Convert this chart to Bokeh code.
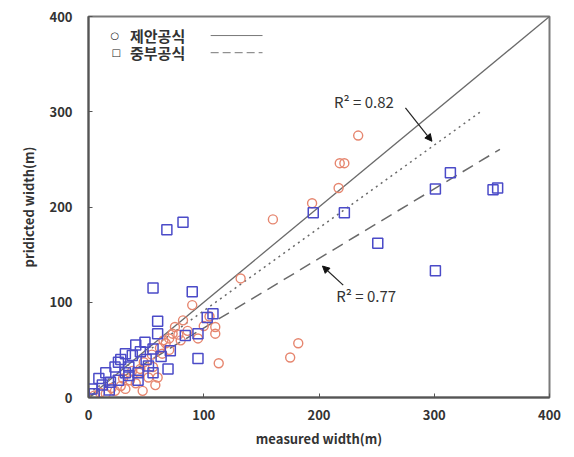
from bokeh.plotting import figure
from bokeh.models import Range1d, Label, Arrow, NormalHead, FixedTicker
from bokeh.embed import file_html
from bokeh.resources import INLINE

# 제안공식 (proposed formula): measured vs predicted width (m)
prop_x = [234, 218, 222, 217, 194, 160, 132, 90, 110, 110, 113, 182, 175,
          73, 67, 64, 48, 56, 52, 41, 32, 23, 15, 60, 47, 58, 82, 75,
          5, 10, 20, 28, 30, 36, 38, 44, 45, 55, 62, 65, 70, 70, 78, 80, 86, 95, 100, 105]
prop_y = [275, 246, 246, 220, 204, 187, 125, 97, 74, 67, 36, 57, 42,
          67, 57, 46, 37, 32, 21, 15, 9, 7, 4, 21, 7, 13, 81, 74,
          2, 5, 10, 12, 20, 18, 28, 26, 30, 45, 52, 60, 50, 62, 66, 60, 70, 62, 75, 85]

# 중부공식 (existing formula)
mid_x = [68, 82, 56, 90, 195, 222, 251, 314, 301, 351, 355, 301,
         60, 60, 71, 69, 95, 108, 103, 84, 95,
         41, 49, 56, 32, 38, 26, 23, 35, 43, 35, 15, 9, 19, 3, 12, 26, 43, 56, 32,
         5, 18, 50, 45, 28, 52, 63]
mid_y = [176, 184, 115, 111, 194, 194, 162, 236, 219, 218, 220, 133,
         80, 67, 49, 30, 41, 88, 84, 65, 67,
         55, 58, 51, 46, 44, 37, 32, 32, 26, 23, 26, 20, 16, 9, 13, 18, 18, 26, 26,
         4, 8, 40, 48, 40, 33, 43]

# regression lines: slope, intercept, x extent
fit_prop = dict(slope=0.87, intercept=4, x0=0, x1=340)
fit_mid = dict(slope=0.73, intercept=0, x0=0, x1=357)
r2_prop = 0.82
r2_mid = 0.77

ticks = [0, 100, 200, 300, 400]

circle_color = "#e6866f"
square_color = "#4b4bc8"
line_color = "#6a6a6a"

p = figure(width=574, height=457, output_backend="svg", toolbar_location=None,
           x_range=Range1d(0, 400), y_range=Range1d(0, 400),
           min_border_left=88, min_border_right=25, min_border_top=16, min_border_bottom=60)
p.background_fill_color = "white"
p.border_fill_color = "white"
p.xgrid.visible = False
p.ygrid.visible = False
p.outline_line_color = "#7a7a7a"
p.outline_line_width = 2

for ax in (p.xaxis[0], p.yaxis[0]):
    ax.ticker = FixedTicker(ticks=ticks)
    ax.minor_tick_line_color = None
    ax.major_tick_in = 4
    ax.major_tick_out = 0
    ax.axis_line_color = "#555555"
    ax.axis_line_width = 2
    ax.major_tick_line_color = "#555555"
    ax.major_label_text_font = "Noto Sans CJK KR"
    ax.major_label_text_font_style = "bold"
    ax.major_label_text_font_size = "13px"
    ax.major_label_text_color = "#333333"
    ax.axis_label_text_font = "Noto Sans CJK KR"
    ax.axis_label_text_font_style = "bold"
    ax.axis_label_text_font_size = "13px"
    ax.axis_label_text_color = "#333333"

p.xaxis.axis_label = "measured width(m)"
p.yaxis.axis_label = "pridicted width(m)"
p.xaxis.major_label_standoff = 12
p.yaxis.major_label_standoff = 16
p.xaxis.axis_label_standoff = 6
p.yaxis.axis_label_standoff = 8

# 1:1 line
p.line([0, 400], [0, 400], line_color=line_color, line_width=1.3)

# fitted lines
for fit, dash in ((fit_prop, "2 4"), (fit_mid, "12 7")):
    xs = [fit["x0"], fit["x1"]]
    ys = [fit["slope"] * x + fit["intercept"] for x in xs]
    p.line(xs, ys, line_color=line_color, line_width=1.5, line_dash=dash)

p.scatter(prop_x, prop_y, marker="circle", size=9, fill_color=None,
          line_color=circle_color, line_width=1.4)
p.scatter(mid_x, mid_y, marker="square", size=10, fill_color=None,
          line_color=square_color, line_width=1.5)

# R² annotations with arrows
lbl_font = "Noto Sans CJK KR"
p.add_layout(Label(x=213, y=311, text=f"R\u00b2 = {r2_prop:.2f}", text_font=lbl_font,
                   text_font_size="15px", text_color="#333333", text_baseline="middle"))
p.add_layout(Label(x=215, y=107, text=f"R\u00b2 = {r2_mid:.2f}", text_font=lbl_font,
                   text_font_size="15px", text_color="#333333", text_baseline="middle"))
head = dict(size=7, fill_color="#111111", line_color="#111111")
p.add_layout(Arrow(end=NormalHead(**head), x_start=275, y_start=304, x_end=298, y_end=269,
                   line_color="#222222", line_width=1.2))
p.add_layout(Arrow(end=NormalHead(**head), x_start=221, y_start=118, x_end=203, y_end=138,
                   line_color="#222222", line_width=1.2))

# legend
sym_font = "DejaVu Sans"
p.add_layout(Label(x=19, y=380, text="\u25cb", text_font=sym_font, text_font_size="10px",
                   text_color="#222222", text_baseline="middle", text_font_style="bold"))
p.add_layout(Label(x=36, y=380, text="제안공식", text_font=lbl_font, text_font_size="15px",
                   text_color="#333333", text_baseline="middle", text_font_style="bold"))
p.add_layout(Label(x=20, y=362, text="\u25a1", text_font=sym_font, text_font_size="10px",
                   text_color="#222222", text_baseline="middle", text_font_style="bold"))
p.add_layout(Label(x=36, y=362, text="중부공식", text_font=lbl_font, text_font_size="15px",
                   text_color="#333333", text_baseline="middle", text_font_style="bold"))
p.line([106, 151], [380, 380], line_color="#777777", line_width=1)
p.line([106, 151], [362, 362], line_color="#777777", line_width=1, line_dash="8 4")

open("out.html", "w").write(file_html(p, INLINE))
